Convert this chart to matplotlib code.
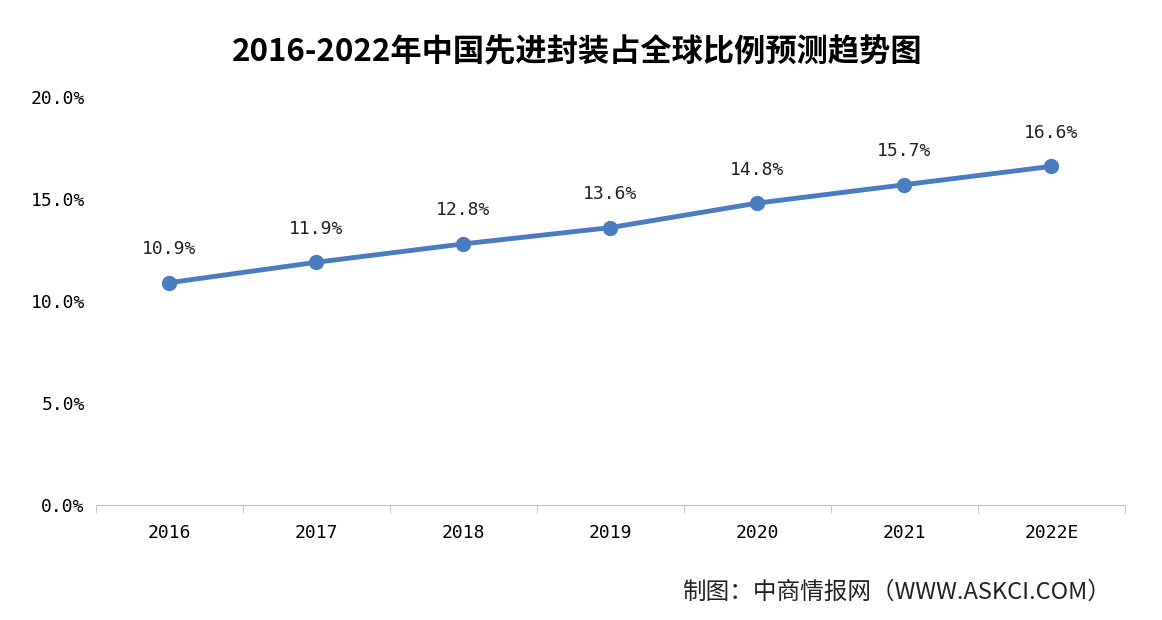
import matplotlib.pyplot as plt
import numpy as np

plt.rcParams['font.family'] = ['Noto Sans CJK SC', 'DejaVu Sans']

years = ["2016", "2017", "2018", "2019", "2020", "2021", "2022E"]
share = [10.9, 11.9, 12.8, 13.6, 14.8, 15.7, 16.6]
labels = ["10.9%", "11.9%", "12.8%", "13.6%", "14.8%", "15.7%", "16.6%"]

fig = plt.figure(figsize=(11.62, 6.2), dpi=100)
ax = fig.add_axes([0.0826, 0.1855, 0.8854, 0.658])
x = np.arange(len(years))
ax.plot(x, share, color="#4a7cc0", lw=3.5, marker="o", ms=10, zorder=3)
for xi, v, t in zip(x, share, labels):
    ax.text(xi, v + 1.2, t, ha="center", va="bottom", fontsize=13,
            family="DejaVu Sans Mono", color="#222222")

ax.set_xlim(-0.5, len(years) - 0.5)
ax.set_ylim(0, 20)
ax.set_yticks([0, 5, 10, 15, 20])
ax.set_yticklabels(["0.0%", "5.0%", "10.0%", "15.0%", "20.0%"],
                   family="DejaVu Sans Mono", fontsize=13)
ax.set_xticks(x)
ax.set_xticklabels(years, family="DejaVu Sans Mono", fontsize=13)
ax.set_xticks(np.arange(-0.5, len(years)), minor=True)
ax.tick_params(axis="x", which="major", length=0, pad=14)
ax.tick_params(axis="x", which="minor", length=6, color="#bfbfbf")
ax.tick_params(axis="y", length=0, pad=8)
for s in ["top", "right", "left"]:
    ax.spines[s].set_visible(False)
ax.spines["bottom"].set_color("#bfbfbf")

fig.text(0.497, 0.915, "2016-2022年中国先进封装占全球比例预测趋势图", ha="center",
         va="center", fontsize=22.5, fontweight="bold")
fig.text(0.956, 0.045, "制图：中商情报网（WWW.ASKCI.COM）", ha="right",
         va="center", fontsize=17, color="#222222")

fig.savefig("out.png")
